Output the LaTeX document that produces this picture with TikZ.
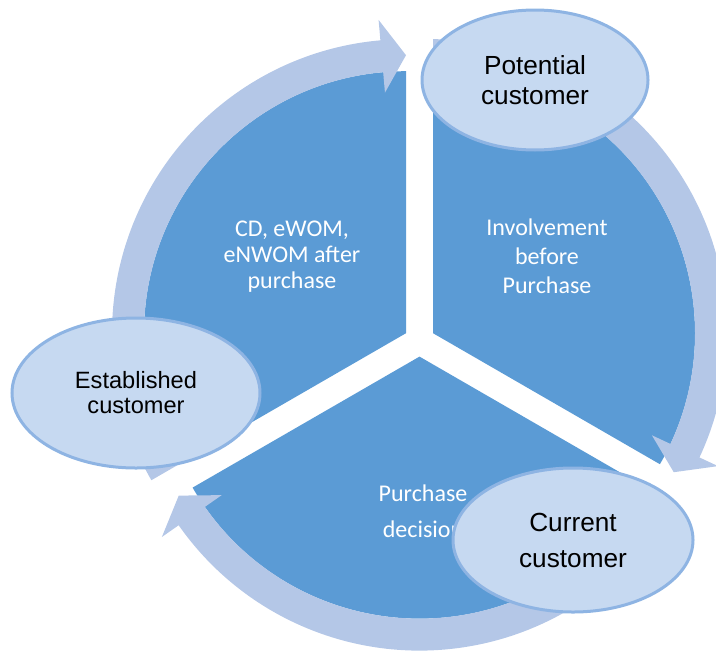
\documentclass[tikz,border=0pt]{standalone}
\usepackage{fontspec}
\newfontfamily\stagefont{Liberation Sans}
\newfontfamily\segfont{Carlito}
\usepackage{tikz}
\usetikzlibrary{shapes.geometric}
\definecolor{segblue}{HTML}{5B9BD5}
\definecolor{bandblue}{HTML}{B4C7E7}
\definecolor{stagefill}{HTML}{C6D9F1}
\definecolor{stageline}{HTML}{8EB4E3}
\pgfdeclarelayer{sectorlayer}
\pgfdeclarelayer{arrowlayer}
\pgfsetlayers{sectorlayer,arrowlayer,main}
\tikzstyle{none} = []
\tikzstyle{segment}=[fill=segblue]
\tikzstyle{band}=[fill=bandblue]
\tikzstyle{segtext}=[text=white, align=center, inner sep=0pt]
\tikzstyle{stage}=[ellipse, draw=stageline, line width=1.5pt, fill=stagefill, inner sep=0pt, align=center, text=black]

\begin{document}
\begin{tikzpicture}[x=0.5pt, y=0.5pt]
	\useasboundingbox (0, 0) rectangle (716, 650);
	\begin{pgfonlayer}{sectorlayer}
		\fill [style=segment] (406, 316.8) -- ++(90:262) arc [start angle=90, end angle=210, radius=262] -- cycle;
		\fill [style=segment] (433, 316.8) -- ++(-30:262) arc [start angle=-30, end angle=90, radius=262] -- cycle;
		\fill [style=segment] (419.5, 293.4) -- ++(210:262) arc [start angle=210, end angle=330, radius=262] -- cycle;
		\node [style=segtext, font=\segfont\fontsize{12}{13}\selectfont] (0) at (292, 393) {CD, eWOM,\\eNWOM after\\purchase};
		\node [style=segtext, font=\segfont\fontsize{12}{14.5}\selectfont] (1) at (547, 394) {Involvement\\before\\Purchase};
		\node [style=segtext, font=\segfont\fontsize{12}{18}\selectfont] (2) at (423, 139) {Purchase\\decision};
	\end{pgfonlayer}
	\begin{pgfonlayer}{arrowlayer}
		\fill [style=band, shift={(406, 316.8)}] (210:262) arc [start angle=210, end angle=95, radius=262] -- (95:241.5) -- (90:278) -- (95:314.5) -- (95:294) arc [start angle=95, end angle=210, radius=294] -- cycle;
		\fill [style=band, shift={(433, 316.8)}] (90:262) arc [start angle=90, end angle=-25, radius=262] -- (-25:241.5) -- (-30:278) -- (-25:314.5) -- (-25:294) arc [start angle=-25, end angle=90, radius=294] -- cycle;
		\fill [style=band, shift={(419.5, 293.4)}] (330:262) arc [start angle=330, end angle=215, radius=262] -- (215:241.5) -- (210:278) -- (215:314.5) -- (215:294) arc [start angle=215, end angle=330, radius=294] -- cycle;
	\end{pgfonlayer}
	\node [style=stage, minimum width=113pt, minimum height=70pt, font=\stagefont\fontsize{13.1}{15}\selectfont] (3) at (535, 570) {Potential\\customer};
	\node [style=stage, minimum width=124pt, minimum height=75pt, font=\stagefont\fontsize{11.8}{12.5}\selectfont] (4) at (136, 257) {Established\\customer};
	\node [style=stage, minimum width=120pt, minimum height=72pt, font=\stagefont\fontsize{13.1}{18}\selectfont] (5) at (573, 110) {Current\\customer};
\end{tikzpicture}
\end{document}
